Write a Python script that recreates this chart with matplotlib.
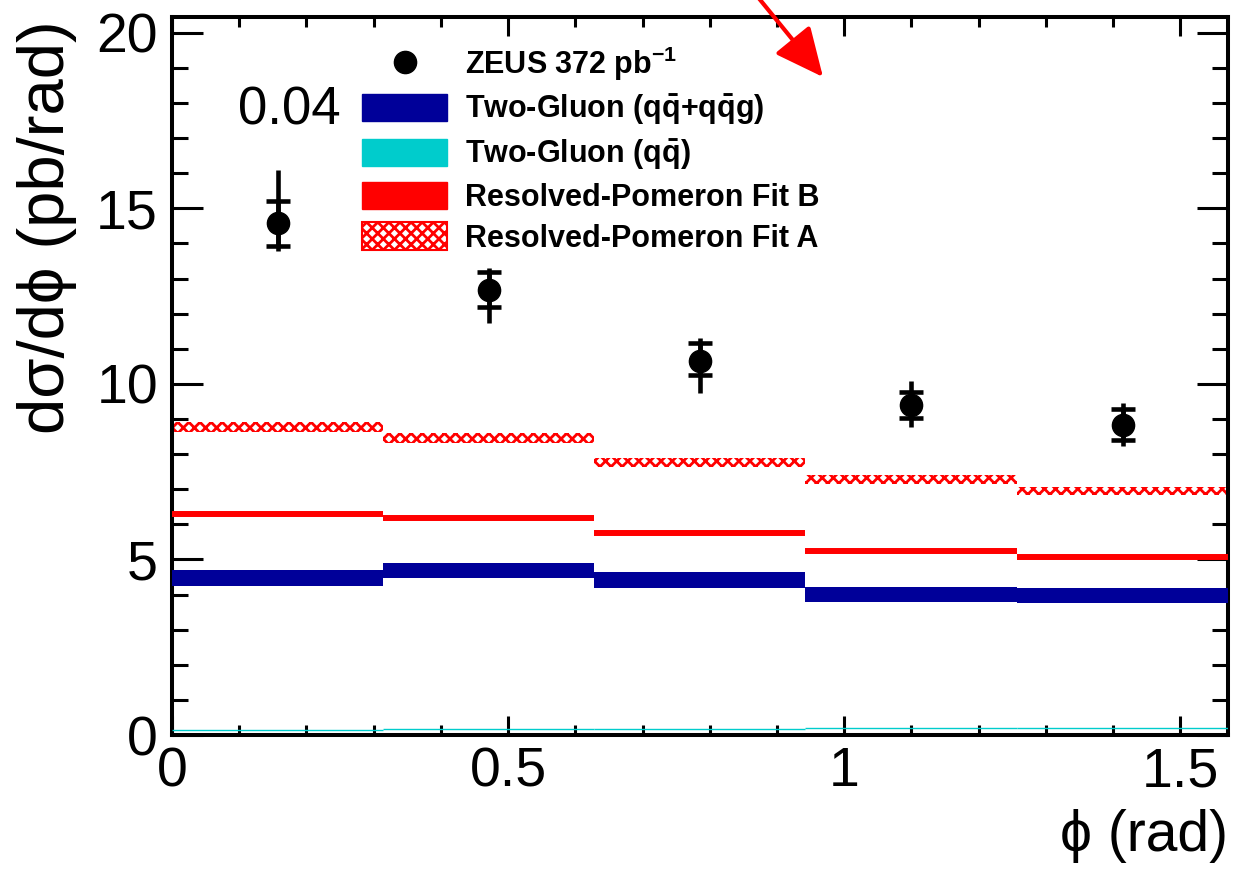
import numpy as np
import matplotlib as mpl
from matplotlib import pyplot as plt
from matplotlib.patches import Patch
from matplotlib.lines import Line2D

mpl.rcParams['font.family'] = ['Liberation Sans', 'DejaVu Sans']
mpl.rcParams['mathtext.fontset'] = 'custom'
mpl.rcParams['mathtext.rm'] = 'Liberation Sans'
mpl.rcParams['mathtext.bf'] = 'Liberation Sans:bold'
mpl.rcParams['hatch.linewidth'] = 2.0

# phi bins (rad)
phi_edges = [0.0, 0.314, 0.628, 0.942, 1.257, 1.571]
phi_centres = [0.157, 0.471, 0.785, 1.100, 1.414]

# ZEUS data points with inner (stat) and outer (total) error limits
zeus = [14.58, 12.68, 10.64, 9.40, 8.83]
zeus_stat_lo = [13.93, 12.20, 10.26, 9.03, 8.40]
zeus_stat_hi = [15.21, 13.20, 11.16, 9.78, 9.29]
zeus_tot_lo = [13.80, 11.73, 9.74, 8.78, 8.24]
zeus_tot_hi = [16.10, 13.29, 11.30, 10.07, 9.46]

# model predictions
fitA_lo = [8.62, 8.31, 7.62, 7.15, 6.84]
fitA_hi = [8.92, 8.59, 7.88, 7.42, 7.07]
fitB = [6.30, 6.17, 5.75, 5.23, 5.06]
gluon_lo = [4.25, 4.46, 4.20, 3.80, 3.76]
gluon_hi = [4.70, 4.91, 4.63, 4.22, 4.18]
gluon_qq = [0.15, 0.16, 0.17, 0.19, 0.21]

fig = plt.figure(figsize=(12.39, 8.74), dpi=100)
ax = fig.add_axes([0.1388, 0.159, 0.8523, 0.8215])

left = np.array(phi_edges[:-1])
right = np.array(phi_edges[1:])
widths = right - left

# hatched band for fit A
ax.bar(left, np.array(fitA_hi) - np.array(fitA_lo), width=widths, bottom=fitA_lo,
       align='edge', facecolor='white', edgecolor='red', hatch='xxx',
       linewidth=0, zorder=2)
ax.hlines(fitB, left, right, colors='red', linewidth=4.3, zorder=3)
ax.bar(left, np.array(gluon_hi) - np.array(gluon_lo), width=widths, bottom=gluon_lo,
       align='edge', color='#000099', linewidth=0, zorder=3)
ax.hlines(gluon_qq, left, right, colors='#00cccc', linewidth=1.0, zorder=3)

y = np.array(zeus)
ax.errorbar(phi_centres, y, yerr=[y - np.array(zeus_tot_lo), np.array(zeus_tot_hi) - y],
            fmt='none', ecolor='black', elinewidth=3.3, capsize=0, zorder=4)
ax.errorbar(phi_centres, y, yerr=[y - np.array(zeus_stat_lo), np.array(zeus_stat_hi) - y],
            fmt='o', color='black', ms=16, elinewidth=3.3, capsize=8.3, capthick=3.3, zorder=5)

ax.set_xlim(0, np.pi / 2)
ax.set_ylim(0, 20.45)
ax.set_xticks([0, 0.5, 1, 1.5])
ax.set_xticklabels(['0', '0.5', '1', '1.5'])
ax.set_yticks([0, 5, 10, 15, 20])
ax.xaxis.set_minor_locator(mpl.ticker.MultipleLocator(0.1))
ax.yaxis.set_minor_locator(mpl.ticker.MultipleLocator(1))

for s in ax.spines.values():
    s.set_linewidth(2.9)
ax.tick_params(which='both', direction='in', top=True, right=True, width=2.2, labelsize=40)
ax.tick_params(axis='y', which='major', length=22, pad=10)
ax.tick_params(axis='y', which='minor', length=11.5)
ax.tick_params(axis='x', which='major', length=14, pad=8)
ax.tick_params(axis='x', which='minor', length=7)

ax.set_ylabel('d\u03c3/d\u03d5 (pb/rad)', fontsize=47, loc='top')
ax.yaxis.set_label_coords(-0.09, 0.996)
ax.set_xlabel('\u03d5 (rad)', fontsize=41, loc='right')
ax.xaxis.set_label_coords(1.0, -0.103)

ax.text(0.0625, 0.85, '0.04', transform=ax.transAxes, fontsize=38, va='baseline')

handles = [Line2D([], [], marker='o', ls='none', color='black', ms=16),
           Patch(facecolor='#000099', edgecolor='#000099'),
           Patch(facecolor='#00cccc', edgecolor='#00cccc'),
           Patch(facecolor='red', edgecolor='red'),
           Patch(facecolor='white', edgecolor='red', hatch='xxx', linewidth=1.5)]
labels = [r'ZEUS 372 pb$^{\mathbf{-1}}$',
          r'Two-Gluon (q$\mathbf{\bar{q}}$+q$\mathbf{\bar{q}}$g)',
          r'Two-Gluon (q$\mathbf{\bar{q}}$)',
          'Resolved-Pomeron Fit B',
          'Resolved-Pomeron Fit A']
ax.legend(handles, labels, loc='upper left', bbox_to_anchor=(0.18, 0.962),
          frameon=False, prop={'weight': 'bold', 'size': 22},
          handlelength=2.78, handleheight=1.0, labelspacing=0.32,
          handletextpad=0.59, borderpad=0, borderaxespad=0)

ax.annotate('', xy=(823 / 1239, 1 - 77 / 874), xytext=(757 / 1239, 1 + 4 / 874),
            xycoords='figure fraction', textcoords='figure fraction',
            annotation_clip=False,
            arrowprops=dict(arrowstyle='-|>,head_length=0.6,head_width=0.28',
                            color='red', lw=3, mutation_scale=50,
                            shrinkA=0, shrinkB=0))

fig.savefig('out.png', dpi=100)
